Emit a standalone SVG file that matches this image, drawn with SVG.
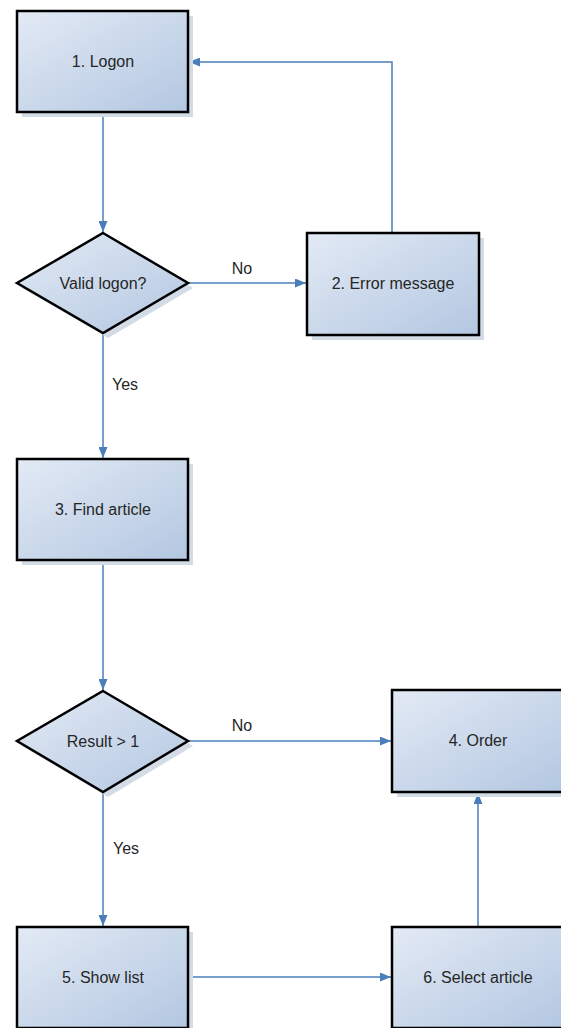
<svg xmlns="http://www.w3.org/2000/svg" width="561" height="1028" viewBox="0 0 561 1028">
  <style>
    .shadow { fill: #d3dbe6; }
    .shape { fill: url(#fill); stroke: #000; stroke-width: 2.5; }
    .label { font-family: "Liberation Sans", Arial, sans-serif; font-size: 16px; fill: #262626; text-anchor: middle; }
    .edge { fill: none; stroke: #4a7ebb; stroke-width: 1.5; marker-end: url(#arrow); }
  </style>
  <defs>
    <linearGradient id="fill" x1="0" y1="0" x2="1" y2="1">
      <stop offset="0" stop-color="#e3eaf5"/>
      <stop offset="1" stop-color="#b3c7e1"/>
    </linearGradient>
    <marker id="arrow" viewBox="0 0 10 10" refX="10" refY="5" markerWidth="11" markerHeight="9" markerUnits="userSpaceOnUse" orient="auto" preserveAspectRatio="none">
      <path d="M0,0 L10,5 L0,10 z" fill="#4a7ebb"/>
    </marker>
  </defs>

  <rect width="561" height="1028" fill="#fff"/>

  <!-- connectors -->
  <g id="connectors">
    <path class="edge" d="M103,112 V232"/>
    <path class="edge" d="M188,283 H306"/>
    <path class="edge" d="M392,233 V62 H189"/>
    <path class="edge" d="M103,333 V458"/>
    <path class="edge" d="M103,560 V690"/>
    <path class="edge" d="M188,741 H391"/>
    <path class="edge" d="M103,792 V926"/>
    <path class="edge" d="M188,977 H391"/>
    <path class="edge" d="M478,927 V793"/>
    <text class="label" x="242" y="274">No</text>
    <text class="label" x="125" y="390">Yes</text>
    <text class="label" x="242" y="731">No</text>
    <text class="label" x="126" y="854">Yes</text>
  </g>

  <g id="n1">
    <rect class="shadow" x="22" y="16" width="171" height="101"/>
    <rect class="shape" x="17" y="11" width="171" height="101"/>
    <text class="label" x="103" y="67">1. Logon</text>
  </g>

  <g id="d1">
    <polygon class="shadow" points="108,238 193,288 108,338 22,288"/>
    <polygon class="shape" points="103,233 188,283 103,333 17,283"/>
    <text class="label" x="103" y="289">Valid logon?</text>
  </g>

  <g id="n2">
    <rect class="shadow" x="312" y="238" width="172" height="102"/>
    <rect class="shape" x="307" y="233" width="172" height="102"/>
    <text class="label" x="393" y="289">2. Error message</text>
  </g>

  <g id="n3">
    <rect class="shadow" x="22" y="464" width="171" height="101"/>
    <rect class="shape" x="17" y="459" width="171" height="101"/>
    <text class="label" x="103" y="515">3. Find article</text>
  </g>

  <g id="d2">
    <polygon class="shadow" points="108,696 193,746 108,797 22,746"/>
    <polygon class="shape" points="103,691 188,741 103,792 17,741"/>
    <text class="label" x="103" y="747">Result &gt; 1</text>
  </g>

  <g id="n4">
    <rect class="shadow" x="397" y="695" width="172" height="102"/>
    <rect class="shape" x="392" y="690" width="172" height="102"/>
    <text class="label" x="478" y="746">4. Order</text>
  </g>

  <g id="n5">
    <rect class="shadow" x="22" y="932" width="171" height="101"/>
    <rect class="shape" x="17" y="927" width="171" height="101"/>
    <text class="label" x="103" y="983">5. Show list</text>
  </g>

  <g id="n6">
    <rect class="shadow" x="397" y="932" width="172" height="101"/>
    <rect class="shape" x="392" y="927" width="172" height="101"/>
    <text class="label" x="478" y="983">6. Select article</text>
  </g>
</svg>
